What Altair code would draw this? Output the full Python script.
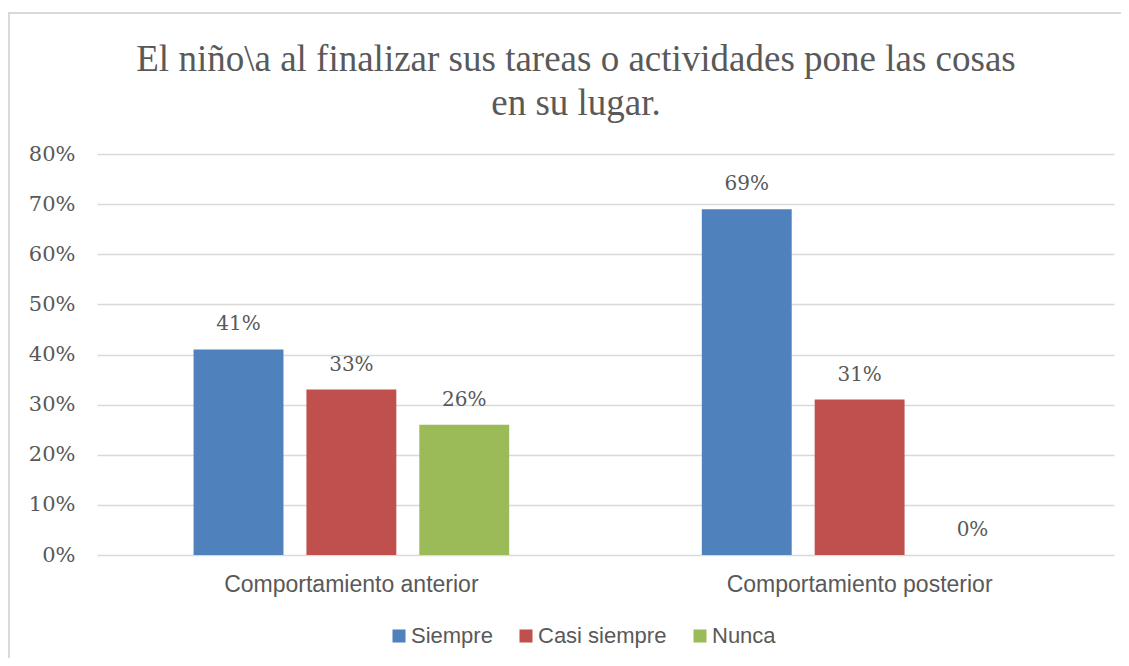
import altair as alt
import pandas as pd

title_lines = ["El niño\\a al finalizar sus tareas o actividades pone las cosas",
               "en su lugar."]
categories = ["Comportamiento anterior", "Comportamiento posterior"]
series = ["Siempre", "Casi siempre", "Nunca"]
anterior = [0.41, 0.33, 0.26]
posterior = [0.69, 0.31, 0.0]
colors = ["#4F81BD", "#C0504D", "#9BBB59"]
y_ticks = [0, 0.1, 0.2, 0.3, 0.4, 0.5, 0.6, 0.7, 0.8]

rows = []
for cat, vals in zip(categories, [anterior, posterior]):
    for s, v in zip(series, vals):
        rows.append({"categoria": cat, "serie": s, "valor": v})
df = pd.DataFrame(rows)

TXT = "#595959"

base = alt.Chart(df).encode(
    x=alt.X("categoria:N", sort=categories,
            scale=alt.Scale(paddingInner=0.379, paddingOuter=0.19),
            axis=alt.Axis(title=None, labelAngle=0, domain=False, ticks=False,
                          labelFont="Liberation Sans", labelFontSize=23, labelLimit=0,
                          labelColor=TXT, labelPadding=18)),
    xOffset=alt.XOffset("serie:N", sort=series,
                        scale=alt.Scale(paddingInner=0.2035, paddingOuter=0)),
)

bars = base.mark_bar().encode(
    y=alt.Y("valor:Q", scale=alt.Scale(domain=[0, 0.8]),
            axis=alt.Axis(title=None, format=".0%", values=y_ticks, domain=False,
                          ticks=False, gridColor="#D9D9D9", gridWidth=1.5,
                          labelFont="DejaVu Serif", labelFontSize=21,
                          labelColor=TXT, labelPadding=22)),
    color=alt.Color("serie:N", sort=series,
                    scale=alt.Scale(domain=series, range=colors),
                    legend=alt.Legend(title=None, orient="none", direction="horizontal",
                                      legendX=291, legendY=471,
                                      symbolType="square", symbolSize=170,
                                      symbolStrokeWidth=0, symbolOpacity=1,
                                      labelFont="Liberation Sans", labelFontSize=22,
                                      labelColor=TXT, labelOffset=1, columnPadding=22)),
)

labels = base.mark_text(dy=-15, baseline="bottom", font="DejaVu Serif",
                        fontSize=20, color=TXT).encode(
    y="valor:Q",
    text=alt.Text("valor:Q", format=".0%"),
)

title = alt.Chart(pd.DataFrame({"t": [title_lines]})).mark_text(
    font="Liberation Serif", fontSize=37, color=TXT, align="center",
    baseline="alphabetic", lineHeight=44
).encode(text="t", x=alt.value(479), y=alt.value(-83))

border = alt.Chart(pd.DataFrame({"a": [0]})).mark_rect(
    fill=None, stroke="#D9D9D9", strokeWidth=2
).encode(x=alt.value(-88), x2=alt.value(1028), y=alt.value(-141), y2=alt.value(600))

chart = alt.layer(border, title, bars, labels).properties(
    width=1017, height=401,
    autosize=alt.AutoSizeParams(type="none"),
    padding={"left": 89, "top": 146, "right": 7, "bottom": 103},
).configure_view(stroke=None)

chart.save("out.html", embed_options={"renderer": "svg", "actions": False})
